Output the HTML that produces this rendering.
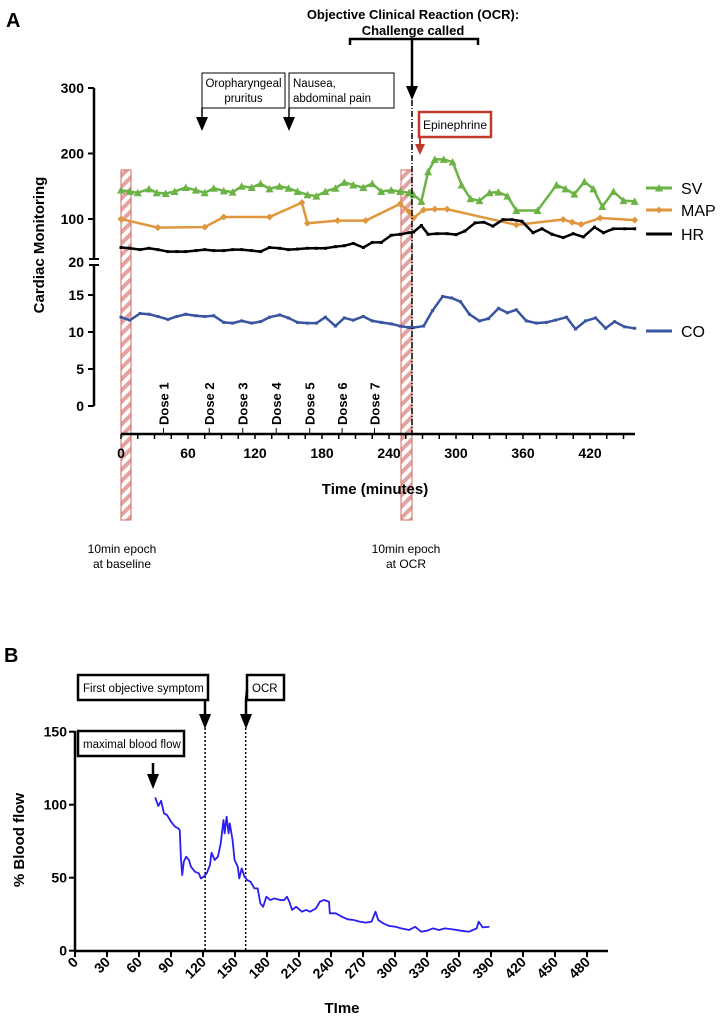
<!DOCTYPE html>
<html><head><meta charset="utf-8">
<style>
body{margin:0;background:#fff;}
svg{display:block;font-family:"Liberation Sans",sans-serif;}
</style></head>
<body>
<svg id="fig" width="723" height="1020" viewBox="0 0 723 1020" xmlns="http://www.w3.org/2000/svg">
<defs>
<pattern id="hatch" width="8" height="8" patternUnits="userSpaceOnUse" patternTransform="rotate(45)">
<rect width="8" height="8" fill="#fff"/><rect width="4" height="8" fill="#e3a3a3"/>
</pattern>
</defs>
<g id="panelTop"></g>
<g id="panelBot"></g>
</svg>
<script>
// ---------- Panel A data ----------
const svMin=[0,8,15,25,32,40,48,58,67,75,83,92,100,108,117,125,133,142,150,158,167,175,183,192,200,208,217,225,233,242,250,258,262,269,275,281,289,297,305,313,321,330,338,346,354,373,390,398,406,415,423,431,441,450,460];
const svVal=[144,142,140,146,140,139,142,148,144,140,147,143,141,150,148,154,146,150,147,142,137,135,142,147,156,152,148,154,142,144,142,140,137,127,172,191,191,187,152,131,128,140,141,135,113,113,152,146,138,157,146,119,142,128,127];
const mapMin=[0,33,75,92,133,162,167,194,219,250,258,262,271,281,292,354,396,404,412,429,460];
const mapVal=[100,84,85,103,103,125,92,97,97,123,111,101.5,114,115,115,89,99,94,90,101.5,98];
const hrMin=[0,8,17,25,33,42,50,58,67,75,83,92,100,108,117,125,133,142,150,158,167,175,183,192,200,208,217,225,233,242,250,258,262,269,275,283,292,300,308,317,325,333,342,350,359,369,377,386,396,405,414,424,432,441,451,460];
const hrVal=[47,45.5,43,45.5,43,39.4,39.4,39.4,41.2,43,41.2,41.2,43,43,41.2,39.4,47,45.5,43,44,45.5,45.5,45.5,48.5,50.3,54.5,47,56.4,56.4,69.7,71.5,74.5,75.8,87.9,71.5,72.7,72.7,70.9,77.6,92.7,93.9,86.7,98.8,98.8,95.8,74.5,81.8,71.5,65.5,72.7,66.7,84.8,74.5,81.8,81.8,81.8];
const coMin=[0,8,17,25,33,42,50,58,67,75,83,92,100,108,117,125,133,142,150,158,167,175,183,192,200,208,217,225,233,242,250,258,262,271,279,288,296,304,312,321,329,338,346,354,363,372,381,389,399,407,416,425,434,442,451,460];
const coVal=[12,11.6,12.5,12.4,12.1,11.7,12.1,12.4,12.2,12.1,12.2,11.3,11.2,11.5,11.2,11.4,12,12.3,11.9,11.3,11.2,11.2,12,10.8,11.9,11.6,12.1,11.5,11.3,11.1,10.8,10.6,10.6,10.8,12.9,14.8,14.6,14.1,12.4,11.5,11.8,13.2,12.6,13,11.5,11.2,11.3,11.6,12,10.4,11.5,11.9,10.5,11.4,10.7,10.5];
const topXTicks=[0,60,120,180,240,300,360,420];
const topYUpper=[100,200,300];
const topYLower=[0,5,10,15];
const doseMin=[38,79,109,139,169,198,227];
const doseLbl=["Dose 1","Dose 2","Dose 3","Dose 4","Dose 5","Dose 6","Dose 7"];
// ---------- Panel B data ----------
const bfMin=[75.2,78.1,80.7,83.4,86.3,90,93.8,96.7,98.2,99.4,100.5,102,104.2,106.8,108.7,112.4,116.1,118,120.6,123.5,126.5,128,131,134,136.6,139.2,140.3,142.1,144,145.1,147.7,149.6,152.6,154,156.3,158.9,161.5,164.5,168.2,171.2,173.8,176.4,179.4,183.1,186.8,192.4,196.1,198.7,200.9,203.5,207.3,212.8,216.6,220.3,225.9,229.6,233.3,238.1,238.9,244.5,250.1,255.6,261.2,266.8,272.4,278,281.7,284.3,289.1,294.7,300.3,305.9,313.3,318.9,324.5,330.1,335.6,341.2,346.8,354.2,361.7,369.1,376.6,378.4,382.1,388.5];
const bfVal=[105,99.1,102.7,94.1,92.9,88.4,84.9,83.8,82.6,62.1,51.8,61,64.4,62.1,57.5,54.1,53,49.5,50.7,53,58.7,67.1,62.1,64.4,73.5,89.5,80.4,91.8,80.4,87.2,75.8,62.1,57.5,49.5,56.4,50.7,48.4,47.3,42.7,42.7,32.4,30.1,37,34.7,35.8,34.7,34.7,37,33.6,27.9,30.1,26.7,27.9,26.7,29,33.6,34.7,33.6,25.6,25.6,23.3,21.5,21,19.9,19.2,19.9,26.7,21,18.7,16.9,16.4,15.3,14.2,16.4,13,13.7,15.3,14.2,15.3,14.6,13.7,13,15.3,19.9,16,16.4];
const botXTicks=[0,30,60,90,120,150,180,210,240,270,300,330,360,390,420,450,480];
const botYTicks=[0,50,100,150];

const NS="http://www.w3.org/2000/svg";
function mk(parent,tag,attrs,text){const e=document.createElementNS(NS,tag);for(const k in attrs)e.setAttribute(k,attrs[k]);if(text!==undefined)e.textContent=text;parent.appendChild(e);return e;}
const topG=document.getElementById('panelTop'), botG=document.getElementById('panelBot');

const ax=m=>121+m*1.1167;
function ay(v,lower){ if(lower) return 406-v*7.4; if(v>=100) return 219-(v-100)*0.655; return 262-(v-20)*(43/80); }

let t;
t=mk(topG,'text',{x:6,y:27,'font-size':20,'font-weight':'bold'},'A');


[[121,131],[401,412]].forEach((r,i)=>{const e=mk(topG,'rect',{x:r[0],y:170,width:r[1]-r[0],height:350,fill:'url(#hatch)',stroke:'#d0685a','stroke-width':1});

});
let g=mk(topG,'g',{});


mk(g,'line',{x1:94,y1:88,x2:94,y2:258,stroke:'#000','stroke-width':2.5});
mk(g,'line',{x1:94,y1:266,x2:94,y2:406,stroke:'#000','stroke-width':2.5});
mk(g,'line',{x1:89,y1:259,x2:99,y2:259,stroke:'#000','stroke-width':2});
mk(g,'line',{x1:89,y1:265,x2:99,y2:265,stroke:'#000','stroke-width':2});
topYUpper.forEach(v=>{const y=ay(v,false);mk(g,'line',{x1:88,y1:y,x2:94,y2:y,stroke:'#000','stroke-width':2});
const l=mk(g,'text',{x:84,y:y+5,'font-size':14,'font-weight':'bold','text-anchor':'end'},v);

});
topYLower.forEach(v=>{const yy=ay(v,true);mk(g,'line',{x1:88,y1:yy,x2:94,y2:yy,stroke:'#000','stroke-width':2});
const l=mk(g,'text',{x:84,y:yy+5,'font-size':14,'font-weight':'bold','text-anchor':'end'},v);

});
t=mk(g,'text',{x:84,y:267,'font-size':14,'font-weight':'bold','text-anchor':'end'},'20');


t=mk(topG,'text',{x:0,y:0,'font-size':15,'font-weight':'bold','text-anchor':'middle',transform:'translate(44,245) rotate(-90)'},'Cardiac Monitoring');


g=mk(topG,'g',{});


mk(g,'line',{x1:121,y1:434,x2:635,y2:434,stroke:'#000','stroke-width':2.5});
for(let m=0;m<=460;m+=15){mk(g,'line',{x1:ax(m),y1:434,x2:ax(m),y2:439,stroke:'#000','stroke-width':1.5});}
topXTicks.forEach(m=>{const l=mk(g,'text',{x:ax(m),y:458,'font-size':14,'font-weight':'bold','text-anchor':'middle'},m);

});
t=mk(topG,'text',{x:375,y:494,'font-size':15,'font-weight':'bold','text-anchor':'middle'},'Time (minutes)');


doseMin.forEach((m,i)=>{const x=ax(m);mk(topG,'line',{x1:x,y1:428,x2:x,y2:434,stroke:'#000','stroke-width':1});
const l=mk(topG,'text',{x:0,y:0,'font-size':13,'font-weight':'bold',transform:`translate(${x+5},425) rotate(-90)`},doseLbl[i]);

});
function series(parent,mins,vals,lower,color,marker,name){
 const gg=mk(parent,'g',{});
 
 
 const pts=mins.map((m,i)=>ax(m)+','+ay(vals[i],lower)).join(' ');
 mk(gg,'polyline',{points:pts,fill:'none',stroke:color,'stroke-width':2.5,'stroke-linejoin':'round'});
 mins.forEach((m,i)=>{const x=ax(m),y=ay(vals[i],lower);
  if(marker==='tri') mk(gg,'path',{d:`M${x-4},${y+3.5} L${x+4},${y+3.5} L${x},${y-4} Z`,fill:color});
  else if(marker==='dia') mk(gg,'path',{d:`M${x},${y-3.5} L${x+3.5},${y} L${x},${y+3.5} L${x-3.5},${y} Z`,fill:color});
  else mk(gg,'rect',{x:x-1.5,y:y-1.5,width:3,height:3,fill:color});});
}
series(topG,svMin,svVal,false,'#6ab344','tri','sv');
series(topG,mapMin,mapVal,false,'#e0963c','dia','map');
series(topG,hrMin,hrVal,false,'#000','sq','hr');
series(topG,coMin,coVal,true,'#3a55a0','sq','co');
[['SV','#6ab344',188,'tri'],['MAP','#e0963c',210,'dia'],['HR','#000',234,'sq'],['CO','#3a55a0',331,'sq']].forEach(e=>{
 const lg=mk(topG,'g',{});
 
 
 mk(lg,'line',{x1:646,y1:e[2],x2:672,y2:e[2],stroke:e[1],'stroke-width':3});
 if(e[3]==='tri')mk(lg,'path',{d:`M655,${e[2]+3.5} L663,${e[2]+3.5} L659,${e[2]-4} Z`,fill:e[1]});
 if(e[3]==='dia')mk(lg,'path',{d:`M659,${e[2]-3.5} L662.5,${e[2]} L659,${e[2]+3.5} L655.5,${e[2]} Z`,fill:e[1]});
 mk(lg,'text',{x:681,y:e[2]+6,'font-size':16},e[0]);});
t=mk(topG,'text',{x:413,y:19,'font-size':13,'font-weight':'bold','text-anchor':'middle'},'Objective Clinical Reaction (OCR):');


mk(topG,'text',{x:413,y:35,'font-size':13,'font-weight':'bold','text-anchor':'middle'},'Challenge called');
mk(topG,'path',{d:'M350,45 L350,39 L478,39 L478,45',fill:'none',stroke:'#000','stroke-width':2.5});
mk(topG,'line',{x1:412,y1:39,x2:412,y2:88,stroke:'#000','stroke-width':2.5});
mk(topG,'path',{d:'M406,86 L418,86 L412,100 Z',fill:'#000'});
const ocrLine=mk(topG,'line',{x1:412,y1:100,x2:412,y2:434,stroke:'#000','stroke-width':1.5,'stroke-dasharray':'6,2,1,2'});


function box(parent,x,y,w,h,lines,name,stroke,sw,fs){const bg=mk(parent,'g',{});
 
 
 mk(bg,'rect',{x:x,y:y,width:w,height:h,fill:'#fff',stroke:stroke,'stroke-width':sw});
 lines.forEach(l=>mk(bg,'text',{x:l[1]!==undefined?l[1]:x+w/2,y:y+l[2],'font-size':fs,'text-anchor':l[1]!==undefined?'start':'middle'},l[0]));return bg;}
box(topG,202,73,83,35,[['Oropharyngeal',undefined,14],['pruritus',undefined,29]],'oropharyngeal-pruritus-box','#000',1,11.5);
box(topG,289,73,105,35,[['Nausea,',293,14],['abdominal pain',293,29]],'nausea-box','#000',1,11.5);
[202,289].forEach(x=>{mk(topG,'line',{x1:x,y1:108,x2:x,y2:118,stroke:'#000','stroke-width':1.5});mk(topG,'path',{d:`M${x-6},117 L${x+6},117 L${x},131 Z`,fill:'#000'});});
box(topG,419,112,72,25,[['Epinephrine',undefined,17]],'epinephrine-box','#c0392b',2.5,12);
mk(topG,'line',{x1:420,y1:137,x2:420,y2:145,stroke:'#c0392b','stroke-width':2});
mk(topG,'path',{d:'M415,144 L425,144 L420,155 Z',fill:'#c0392b'});
[[122,'at baseline','baseline-epoch-caption'],[406,'at OCR','ocr-epoch-caption']].forEach(c=>{const cg=mk(topG,'g',{});
 
 
 mk(cg,'text',{x:c[0],y:553,'font-size':12,'text-anchor':'middle'},'10min epoch');mk(cg,'text',{x:c[0],y:568,'font-size':12,'text-anchor':'middle'},c[1]);});

// ---- Panel B ----
const bx=m=>75+m*1.0667;
const by=v=>950.7-v*1.46;
t=mk(botG,'text',{x:4,y:662,'font-size':20,'font-weight':'bold'},'B');


g=mk(botG,'g',{});


mk(g,'line',{x1:75,y1:731,x2:75,y2:951,stroke:'#000','stroke-width':2.5});
botYTicks.forEach(v=>{mk(g,'line',{x1:69,y1:by(v),x2:75,y2:by(v),stroke:'#000','stroke-width':2});
 const l=mk(g,'text',{x:67,y:by(v)+5,'font-size':14,'font-weight':'bold','text-anchor':'end'},v);
 
 });
t=mk(botG,'text',{x:0,y:0,'font-size':15,'font-weight':'bold','text-anchor':'middle',transform:'translate(24,840) rotate(-90)'},'% Blood flow');


g=mk(botG,'g',{});


mk(g,'line',{x1:75,y1:951,x2:608,y2:951,stroke:'#000','stroke-width':2.5});
botXTicks.forEach(m=>{const x=bx(m);mk(g,'line',{x1:x,y1:951,x2:x,y2:957,stroke:'#000','stroke-width':2});
 const l=mk(g,'text',{x:0,y:0,'font-size':14,'font-weight':'bold','text-anchor':'end',transform:`translate(${x+4},963) rotate(-45)`},m);
 
 });
t=mk(botG,'text',{x:342,y:1013,'font-size':15,'font-weight':'bold','text-anchor':'middle'},'TIme');


[[122,'first-symptom-line'],[160,'ocr-line-b']].forEach(d=>{const l=mk(botG,'line',{x1:bx(d[0]),y1:728,x2:bx(d[0]),y2:951,stroke:'#000','stroke-width':1.5,'stroke-dasharray':'2,2'});
 
 });
box(botG,78,675,130,25,[['First objective symptom',83,17]],'first-symptom-box','#000',2.5,11.5);
box(botG,247,675,37,25,[['OCR',252,17]],'ocr-box','#000',2.5,11.5);
box(botG,78,731,106,25,[['maximal blood flow',83,17]],'maximal-blood-flow-box','#000',2.5,11.5);
mk(botG,'line',{x1:205,y1:700,x2:205,y2:716,stroke:'#000','stroke-width':2.5});mk(botG,'path',{d:'M199,714 L211,714 L205,729 Z',fill:'#000'});
mk(botG,'path',{d:'M247,690 L246,700 L246,716',fill:'none',stroke:'#000','stroke-width':2.5});mk(botG,'path',{d:'M240,714 L252,714 L246,729 Z',fill:'#000'});
mk(botG,'line',{x1:153,y1:763,x2:153,y2:776,stroke:'#000','stroke-width':2.5});mk(botG,'path',{d:'M147,774 L159,774 L153,789 Z',fill:'#000'});
const bf=mk(botG,'polyline',{points:bfMin.map((m,i)=>bx(m)+','+by(bfVal[i])).join(' '),fill:'none',stroke:'#2a1df0','stroke-width':1.8,'stroke-linejoin':'round'});


</script>
</body></html>
